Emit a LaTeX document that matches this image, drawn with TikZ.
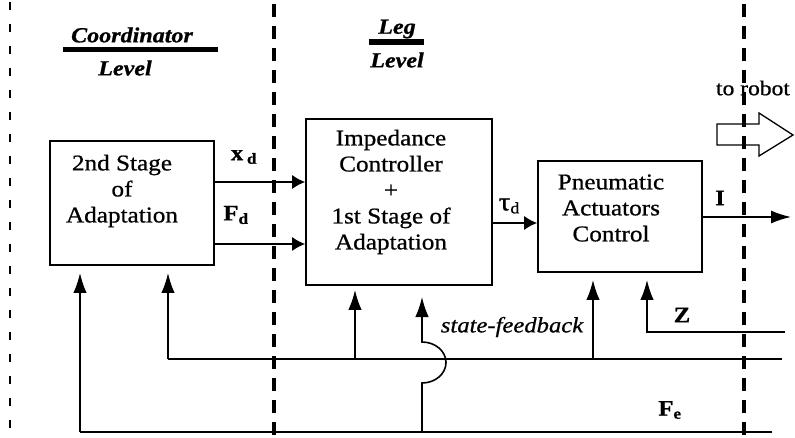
\documentclass[tikz,border=0pt]{standalone}
\usepackage{fontspec}
\setmainfont{Liberation Serif}[FakeStretch=1.12, FakeBold=0.8]
\usetikzlibrary{arrows.meta}

\begin{document}
\begin{tikzpicture}[x=1pt,y=-1pt,
  box/.style={draw, line width=1.6pt, inner sep=0pt},
  boxtext/.style={align=center, inner sep=0pt, font=\fontsize{22.5}{26}\selectfont},
  levtext/.style={inner sep=0pt, font=\fontsize{21.5}{24}\selectfont\bfseries\itshape},
  siglabel/.style={inner sep=0pt, font=\fontsize{22}{24}\selectfont\bfseries},
  sig/.style={line width=1.6pt},
  harrow/.style={sig, -{Latex[length=13pt,width=14pt]}},
  longarrow/.style={sig, -{Latex[length=20pt,width=13pt]}},
  varrow/.style={sig, -{Latex[length=20pt,width=13.5pt]}},
  thinsep/.style={line width=1.3pt, dash pattern=on 8pt off 14pt},
  thicksep/.style={line width=3.5pt, dash pattern=on 13pt off 9pt},
]
\useasboundingbox (0,0) rectangle (795,438);

% level separators
\draw[thinsep] (10,2) -- (10,438);
\draw[thicksep] (274,4) -- (274,438);
\draw[thicksep] (744,4) -- (744,438);

% level headings
\node[levtext] (coordname) at (132,35) {Coordinator};
\draw[line width=5pt] (63,50) -- (218,50);
\node[levtext] (coordlev) at (125,68) {Level};
\node[levtext] (legname) at (397,29) {Leg};
\draw[line width=6pt] (369,42.5) -- (424,42.5);
\node[levtext] (leglev) at (397,60) {Level};

% blocks
\node[box, minimum width=164pt, minimum height=124pt] (coord) at (132,203) {};
\node[boxtext] (coordtxt) at (122,191) {2nd Stage\\of\\Adaptation};

\node[box, minimum width=186pt, minimum height=166pt] (imp) at (399,202) {};
\node[boxtext] (imptxt) at (391,192) {Impedance\\Controller\\+\\1st Stage of\\Adaptation};

\node[box, minimum width=164pt, minimum height=111pt] (pac) at (620,216.5) {};
\node[boxtext] (pactxt) at (611,208) {Pneumatic\\Actuators\\Control};

% forward signals
\draw[harrow] (coord.east |- 0,182) -- (imp.west |- 0,182);
\draw[harrow] (coord.east |- 0,244) -- (imp.west |- 0,244);
\draw[harrow] (imp.east |- 0,223) -- (pac.west |- 0,223);
\coordinate (out) at (791,217);
\draw[longarrow] (pac.east |- out) -- (out);

\node[siglabel] (xd) at (244,157) {x\,\textsubscript{d}};
\node[siglabel] (fd) at (236,215) {F\textsubscript{d}};
\node[inner sep=0pt, font=\fontsize{26}{26}\selectfont] (taud) at (509,206) {τ{\fontsize{16}{16}\selectfont\raisebox{-3pt}{d}}};
\node[siglabel] (isig) at (720,198) {I};

% output to the robot
\node[inner sep=0pt, font=\fontsize{21}{24}\selectfont] (torobot) at (753,88) {to robot};
\draw[line width=1.3pt, line join=miter]
  (717,124) -- (759,124) -- (759,113) -- (793,135) -- (759,156) -- (759,145) -- (717,145) -- cycle;

% feedback paths
\coordinate (fbA) at (782,359);
\coordinate (fbB) at (772,432);
\coordinate (zin) at (785,332);
\coordinate (a1) at (168,359);
\coordinate (b1) at (80,432);

\draw[sig] (fbA) -- (a1);
\draw[varrow] (a1) -- (168,273);
\draw[varrow] (355,359) -- (355,290);
\draw[varrow] (593,359) -- (593,280);

\draw[sig] (fbB) -- (b1);
\draw[varrow] (b1) -- (80,273);

\draw[varrow] (zin) -- (647,332) -- (647,280);

\draw[varrow] (422,432) -- (422,383) arc[start angle=90, end angle=-90, x radius=24, y radius=20.5] -- (422,297);

\node[inner sep=0pt, font=\fontsize{22}{24}\selectfont\itshape] (sfb) at (512,327) {state-feedback};
\node[siglabel] (zlab) at (682,315) {Z};
\node[siglabel] (felab) at (670,410) {F\textsubscript{e}};
\end{tikzpicture}
\end{document}
